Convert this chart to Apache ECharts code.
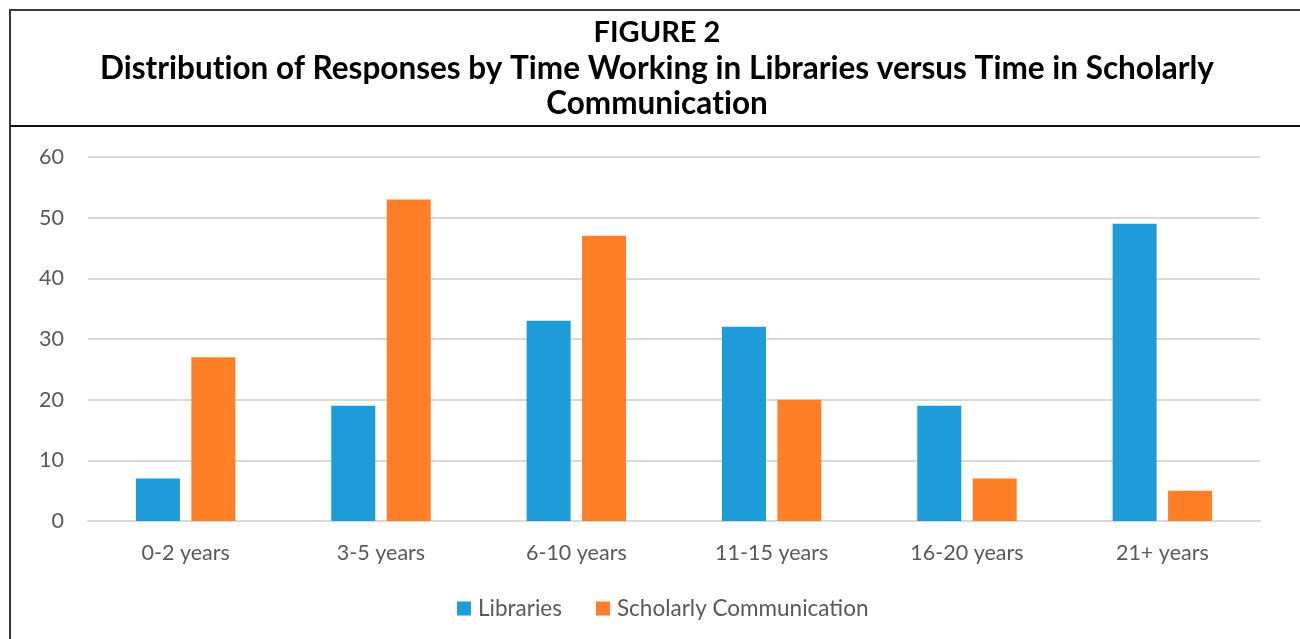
<!DOCTYPE html>
<html><head><meta charset="utf-8">
<script src="https://cdn.jsdelivr.net/npm/echarts@6/dist/echarts.min.js"></script>
<style>html,body{margin:0;padding:0;background:#fff}#c{width:1300px;height:639px}</style>
</head><body><div id="c"></div>
<script>
const categories = ['0-2 years','3-5 years','6-10 years','11-15 years','16-20 years','21+ years'];
const libraries = [7, 19, 33, 32, 19, 49];
const scholarly = [27, 53, 47, 20, 7, 5];
const seriesNames = ['Libraries', 'Scholarly Communication'];
const titleLines = ['FIGURE 2', 'Distribution of Responses by Time Working in Libraries versus Time in Scholarly', 'Communication'];

// split "ti" so the font's ligature is not applied (each rich token is drawn separately)
function noLig(s){ return s.split('ti').map(p => '{t|' + p + '}').join('{t|t}{t|i}').replace(/\{t\|\}/g,''); }

const chart = echarts.init(document.getElementById('c'), null, {renderer:'canvas'});
const labelFont = 'Lato, "Open Sans", sans-serif';
const tRich = {t: {fontFamily: 'Lato, sans-serif', fontWeight: 'bold', fontSize: 31.5, fill: '#000'}};
chart.setOption({
  animation: false,
  backgroundColor: '#fff',
  graphic: [
    {type:'rect', shape:{x:10, y:10, width:1300, height:640}, style:{fill:'none', stroke:'#3a3a3a', lineWidth:2}, silent:true},
    {type:'line', shape:{x1:10, y1:126, x2:1300, y2:126}, style:{stroke:'#111', lineWidth:2}, silent:true},
    {type:'text', x:657, y:33, style:{text:titleLines[0], font:'bold 29px Lato, sans-serif', fill:'#000', textAlign:'center', textVerticalAlign:'middle'}},
    {type:'text', x:657, y:69, style:{text:noLig(titleLines[1]), rich: tRich, font:'bold 31.5px Lato, sans-serif', fill:'#000', textAlign:'center', textVerticalAlign:'middle'}},
    {type:'text', x:657, y:104, style:{text:noLig(titleLines[2]), rich: tRich, font:'bold 31.5px Lato, sans-serif', fill:'#000', textAlign:'center', textVerticalAlign:'middle'}}
  ],
  legend: {
    data: seriesNames,
    left: 452, top: 592,
    itemWidth: 14, itemHeight: 14, itemGap: 34,
    icon: 'rect',
    textStyle: {fontFamily: labelFont, fontSize: 22.5, color: '#595959', padding: [0,0,0,2]}
  },
  grid: {left: 88, right: 40, top: 157, bottom: 118, containLabel: false},
  xAxis: {
    type: 'category', data: categories,
    axisLine: {show: true, lineStyle: {color: '#d9d9d9', width: 2}},
    axisTick: {show: false},
    axisLabel: {fontFamily: labelFont, fontSize: 21.5, color: '#595959', margin: 21}
  },
  yAxis: {
    type: 'value', min: 0, max: 60, interval: 10,
    axisLine: {show: false}, axisTick: {show: false},
    splitLine: {lineStyle: {color: '#d9d9d9', width: 2}},
    axisLabel: {fontFamily: labelFont, fontSize: 21.5, color: '#595959', margin: 24}
  },
  series: [
    {name: seriesNames[0], type: 'bar', data: libraries, barWidth: 44, barGap: '26%', itemStyle: {color: '#1e9cd9'}},
    {name: seriesNames[1], type: 'bar', data: scholarly, barWidth: 44, barGap: '26%', itemStyle: {color: '#fe7f27'}}
  ]
});
</script></body></html>
